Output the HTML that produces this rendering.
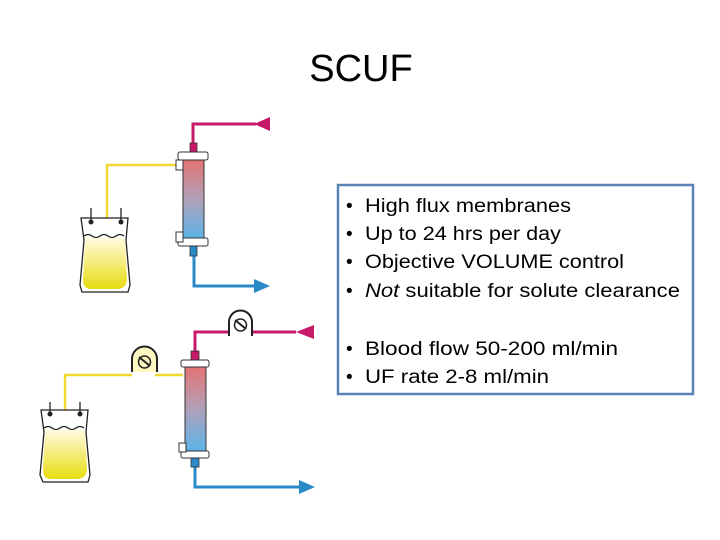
<!DOCTYPE html>
<html><head><meta charset="utf-8"><style>
html,body{margin:0;padding:0;background:#fff;}
svg{display:block;}
text{font-family:"Liberation Sans",sans-serif;fill:#000;}
</style></head><body>
<svg width="720" height="540" viewBox="0 0 720 540" xmlns="http://www.w3.org/2000/svg">
<defs>
<linearGradient id="g" x1="0" y1="0" x2="0" y2="1">
<stop offset="0" stop-color="#e8706e"/><stop offset="0.5" stop-color="#b2a0b8"/><stop offset="1" stop-color="#5ab4ea"/>
</linearGradient>
<linearGradient id="y" x1="0" y1="0" x2="0" y2="1">
<stop offset="0" stop-color="#fffbe0"/><stop offset="1" stop-color="#e8dc10"/>
</linearGradient>
</defs>
<text x="361" y="81" font-size="38" text-anchor="middle">SCUF</text>

<!-- TOP DIAGRAM -->
<polyline points="193,145 193,124 256,124" fill="none" stroke="#c8186a" stroke-width="3"/>
<polygon points="254,124 270,117 270,131" fill="#c8186a"/>
<rect x="190" y="143" width="7" height="10" fill="#c8186a" stroke="#333" stroke-width="0.8"/>
<polyline points="178,165 107,165 107,222" fill="none" stroke="#f0d830" stroke-width="2.5"/>
<polyline points="194,247 194,286 256,286" fill="none" stroke="#2a8ac8" stroke-width="3"/>
<polygon points="270,286 254,279 254,293" fill="#2a8ac8"/>
<rect x="190" y="246" width="7" height="10" fill="#2a8ac8" stroke="#333" stroke-width="0.8"/>
<rect x="183" y="157" width="21" height="83" fill="url(#g)" stroke="#333" stroke-width="1"/>
<rect x="178" y="152" width="30" height="8" rx="2" fill="#fff" stroke="#333" stroke-width="1"/>
<rect x="178" y="238" width="30" height="8" rx="2" fill="#fff" stroke="#333" stroke-width="1"/>
<rect x="176" y="160" width="7" height="10" fill="#fff" stroke="#333" stroke-width="1"/>
<rect x="176" y="232" width="7" height="10" fill="#fff" stroke="#333" stroke-width="1"/>
<g stroke="#222" stroke-width="1.3" fill="none">
<path d="M81,218 L128,218 L126,240 L130,285 L128,292 L82,292 L80,285 L84,240 Z" fill="#fff"/>
<path d="M84,236 q4,-3 8,0 q4,3 8,0 q4,-3 8,0 q4,3 8,0 q4,-3 8,0"/>
<path d="M91,208 L91,222 M121,208 L121,222"/>
</g>
<path d="M85,238 L125,238 L127,280 Q126,288 118,289 L90,289 Q83,288 83,280 Z" fill="url(#y)"/>
<circle cx="91" cy="222" r="2.5" fill="#222"/><circle cx="121" cy="222" r="2.5" fill="#222"/>

<!-- BOTTOM DIAGRAM -->
<polyline points="195,354 195,332 296,332" fill="none" stroke="#c8186a" stroke-width="3"/>
<polygon points="296,332 314,325 314,339" fill="#c8186a"/>
<path d="M229,336 L229,322 A11.5,11.5 0 0 1 252,322 L252,336" fill="#fff" stroke="#222" stroke-width="2"/>
<circle cx="240.5" cy="325" r="6" fill="none" stroke="#222" stroke-width="1.5"/>
<line x1="235" y1="320" x2="246" y2="329" stroke="#222" stroke-width="2"/>
<rect x="191" y="351" width="8" height="10" fill="#c8186a" stroke="#333" stroke-width="0.8"/>
<path d="M183,375 L155,375 M132,375 L65,375 L65,410" fill="none" stroke="#f0d830" stroke-width="2.5"/>
<path d="M132,372 L132,359 A12.5,12.5 0 0 1 157,359 L157,372" fill="#fff8c0" stroke="#222" stroke-width="2"/>
<circle cx="144.5" cy="362" r="6" fill="none" stroke="#222" stroke-width="1.5"/>
<line x1="139" y1="357" x2="150" y2="366" stroke="#222" stroke-width="2"/>
<polyline points="195,459 195,487 300,487" fill="none" stroke="#2a8ac8" stroke-width="3"/>
<polygon points="315,487 299,480 299,494" fill="#2a8ac8"/>
<rect x="191" y="457" width="8" height="10" fill="#2a8ac8" stroke="#333" stroke-width="0.8"/>
<rect x="185" y="364" width="21" height="88" fill="url(#g)" stroke="#333" stroke-width="1"/>
<rect x="181" y="360" width="28" height="7" rx="2" fill="#fff" stroke="#333" stroke-width="1"/>
<rect x="181" y="451" width="28" height="7" rx="2" fill="#fff" stroke="#333" stroke-width="1"/>
<rect x="179" y="443" width="7" height="9" fill="#fff" stroke="#333" stroke-width="1"/>
<g stroke="#222" stroke-width="1.3" fill="none">
<path d="M41,410 L88,410 L86,432 L90,475 L88,482 L43,482 L40,475 L44,432 Z" fill="#fff"/>
<path d="M44,428 q4,-3 8,0 q4,3 8,0 q4,-3 8,0 q4,3 8,0 q4,-3 8,0"/>
<path d="M50,402 L50,414 M80,402 L80,414"/>
</g>
<path d="M45,430 L85,430 L87,470 Q86,478 78,479 L50,479 Q43,478 43,470 Z" fill="url(#y)"/>
<circle cx="50" cy="414" r="2.5" fill="#222"/><circle cx="80" cy="414" r="2.5" fill="#222"/>

<!-- TEXT BOX -->
<rect x="338" y="185" width="355" height="209" fill="#fff" stroke="#5a82b4" stroke-width="2.5"/>
<g font-size="19">
<text x="346" y="212">•</text><text x="365" y="212" textLength="206" lengthAdjust="spacingAndGlyphs">High flux membranes</text>
<text x="346" y="240">•</text><text x="365" y="240" textLength="196" lengthAdjust="spacingAndGlyphs">Up to 24 hrs per day</text>
<text x="346" y="268">•</text><text x="365" y="268" textLength="259" lengthAdjust="spacingAndGlyphs">Objective VOLUME control</text>
<text x="346" y="297">•</text><text x="365" y="297" textLength="315" lengthAdjust="spacingAndGlyphs"><tspan font-style="italic">Not</tspan> suitable for solute clearance</text>
<text x="346" y="355">•</text><text x="365" y="355" textLength="253" lengthAdjust="spacingAndGlyphs">Blood flow 50-200 ml/min</text>
<text x="346" y="383">•</text><text x="365" y="383" textLength="184" lengthAdjust="spacingAndGlyphs">UF rate 2-8 ml/min</text>
</g>
</svg>
</body></html>
